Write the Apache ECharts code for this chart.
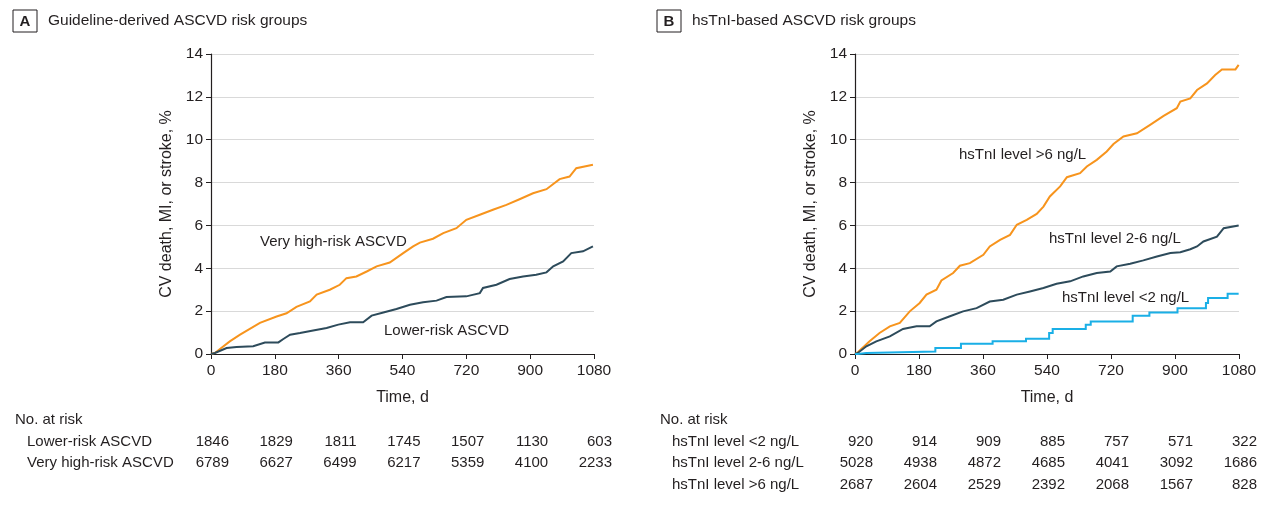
<!DOCTYPE html>
<html><head><meta charset="utf-8">
<script src="https://cdn.jsdelivr.net/npm/echarts@6/dist/echarts.min.js"></script>
<style>html,body{margin:0;padding:0;background:#fff}#c{width:1267px;height:508px}</style>
</head><body><div id="c"></div>
<script>
// ---- data ----
const xTicks = [0, 180, 360, 540, 720, 900, 1080];
const veryHighRisk = [[0,0],[11,0.05],[53,0.59],[82,0.9],[138,1.45],[185,1.75],[213,1.9],[241,2.2],[279,2.45],[298,2.77],[335,3.0],[363,3.23],[382,3.54],[410,3.62],[439,3.85],[467,4.09],[504,4.27],[542,4.71],[570,5.02],[589,5.2],[626,5.38],[655,5.64],[692,5.87],[720,6.26],[758,6.5],[795,6.73],[833,6.96],[870,7.22],[908,7.5],[946,7.69],[983,8.16],[1011,8.28],[1030,8.67],[1077,8.83]];
const lowerRisk = [[0,0],[11,0.05],[44,0.28],[72,0.33],[119,0.36],[152,0.54],[190,0.54],[204,0.7],[223,0.9],[251,0.98],[288,1.1],[326,1.21],[359,1.37],[392,1.48],[429,1.48],[453,1.79],[486,1.94],[523,2.1],[561,2.3],[598,2.41],[636,2.49],[664,2.66],[720,2.69],[758,2.84],[767,3.08],[805,3.23],[842,3.5],[880,3.62],[917,3.7],[946,3.81],[965,4.09],[993,4.32],[1016,4.71],[1049,4.79],[1077,5.02]];
const tnHigh = [[0,0],[8,0.08],[41,0.59],[69,0.98],[98,1.29],[126,1.45],[154,1.99],[182,2.38],[201,2.77],[229,3.0],[243,3.43],[276,3.78],[295,4.12],[323,4.24],[361,4.63],[379,5.02],[408,5.33],[436,5.56],[455,6.03],[483,6.26],[511,6.54],[530,6.88],[548,7.35],[577,7.82],[596,8.25],[633,8.44],[652,8.75],[680,9.06],[708,9.45],[727,9.8],[755,10.15],[793,10.3],[830,10.69],[868,11.11],[905,11.47],[915,11.78],[943,11.93],[962,12.32],[990,12.63],[1013,13.02],[1032,13.28],[1070,13.28],[1079,13.49]];
const tnMid = [[0,0],[8,0.05],[32,0.36],[60,0.59],[98,0.82],[135,1.17],[173,1.29],[210,1.29],[229,1.52],[267,1.76],[304,1.99],[342,2.14],[379,2.45],[417,2.53],[455,2.77],[492,2.92],[530,3.08],[567,3.28],[605,3.39],[642,3.62],[680,3.78],[718,3.85],[736,4.09],[774,4.21],[811,4.37],[849,4.55],[887,4.71],[915,4.75],[943,4.89],[962,5.02],[980,5.25],[1018,5.48],[1037,5.87],[1079,6.0]];
const tnLow = [[0,0],[8,0.05],[32,0.12],[226,0.28],[298,0.48],[387,0.59],[481,0.71],[546,0.98],[556,1.17],[649,1.37],[663,1.52],[781,1.79],[828,1.94],[907,2.14],[987,2.38],[993,2.61],[1048,2.81],[1079,2.81]];
const riskA_labels = ['Lower-risk ASCVD', 'Very high-risk ASCVD'];
const riskA = [[1846,1829,1811,1745,1507,1130,603],[6789,6627,6499,6217,5359,4100,2233]];
const riskB_labels = ['hsTnI level <2 ng/L', 'hsTnI level 2-6 ng/L', 'hsTnI level >6 ng/L'];
const riskB = [[920,914,909,885,757,571,322],[5028,4938,4872,4685,4041,3092,1686],[2687,2604,2529,2392,2068,1567,828]];

const ORANGE = '#F7941D', DARK = '#2D4B5B', BLUE = '#1AAFE6', TXT = '#231F20';
const FONT = '"Liberation Sans", Arial, sans-serif';

const chart = echarts.init(document.getElementById('c'), null, {renderer: 'canvas'});

function xAxis(gi) {
  return {
    type: 'value', gridIndex: gi, min: 0, max: 1080, interval: 180,
    name: 'Time, d', nameLocation: 'middle', nameGap: 36,
    nameTextStyle: {fontSize: 16, color: TXT, fontFamily: FONT},
    axisLine: {show: true, lineStyle: {color: TXT, width: 1.2}},
    axisTick: {show: true, length: 5, lineStyle: {color: TXT}},
    axisLabel: {fontSize: 15.5, color: TXT, fontFamily: FONT, margin: 9, formatter: v => String(v)},
    splitLine: {show: false}
  };
}
function yAxis(gi) {
  return {
    type: 'value', gridIndex: gi, min: 0, max: 14, interval: 2,
    name: 'CV death, MI, or stroke, %', nameLocation: 'middle', nameGap: 36,
    nameTextStyle: {fontSize: 16, color: TXT, fontFamily: FONT},
    axisLine: {show: true, lineStyle: {color: TXT, width: 1.2}},
    axisTick: {show: true, length: 5, lineStyle: {color: TXT}},
    axisLabel: {fontSize: 15.5, color: TXT, fontFamily: FONT, margin: 8, formatter: v => String(v)},
    splitLine: {show: true, lineStyle: {color: '#D9D9D9', width: 1}}
  };
}
function line(data, color, gi, step) {
  return {type: 'line', step: step, data: data, xAxisIndex: gi, yAxisIndex: gi,
    showSymbol: false, symbol: 'none', lineStyle: {color: color, width: 2, join: 'miter'}, itemStyle: {color: color},
    animation: false, z: 3};
}

chart.setOption({
  animation: false,
  grid: [
    {left: 211, top: 54, width: 383, height: 300},
    {left: 855, top: 54, width: 384, height: 300}
  ],
  xAxis: [xAxis(0), xAxis(1)],
  yAxis: [yAxis(0), yAxis(1)],
  series: [
    line(veryHighRisk, ORANGE, 0, false),
    line(lowerRisk, DARK, 0, false),
    line(tnHigh, ORANGE, 1, false),
    line(tnMid, DARK, 1, false),
    line(tnLow, BLUE, 1, 'end')
  ]
});

// graphics: titles, curve labels, risk tables
const g = [];
function txt(x, y, s, opts) {
  g.push(Object.assign({type: 'text', x: x, y: y, silent: true,
    style: Object.assign({text: s, fill: TXT, font: '15px ' + FONT, textVerticalAlign: 'middle'}, opts || {})}));
}
function titleBox(x, y, letter, title) {
  g.push({type: 'rect', shape: {x: x, y: y, width: 24, height: 22}, style: {fill: '#fff', stroke: TXT, lineWidth: 1}});
  txt(x + 12, y + 11.5, letter, {font: 'bold 15px ' + FONT, textAlign: 'center'});
  txt(x + 35, y + 11, title, {font: '15.5px ' + FONT});
}
titleBox(13, 10, 'A', 'Guideline-derived ASCVD risk groups');
titleBox(657, 10, 'B', 'hsTnI-based ASCVD risk groups');

txt(260, 242, 'Very high-risk ASCVD');
txt(384, 331, 'Lower-risk ASCVD');
txt(959, 155, 'hsTnI level >6 ng/L');
txt(1049, 239, 'hsTnI level 2-6 ng/L');
txt(1062, 298, 'hsTnI level <2 ng/L');

function riskTable(gi, xLabel, labels, rows) {
  txt(xLabel - 12, 420, 'No. at risk');
  rows.forEach((r, i) => {
    const y = 442 + i * 21.2;
    txt(xLabel, y, labels[i]);
    r.forEach((v, j) => {
      const px = chart.convertToPixel({xAxisIndex: gi}, xTicks[j]);
      txt(px + 18, y, String(v), {textAlign: 'right'});
    });
  });
}
riskTable(0, 27, riskA_labels, riskA);
riskTable(1, 672, riskB_labels, riskB);

chart.setOption({graphic: {elements: g}});
</script></body></html>
